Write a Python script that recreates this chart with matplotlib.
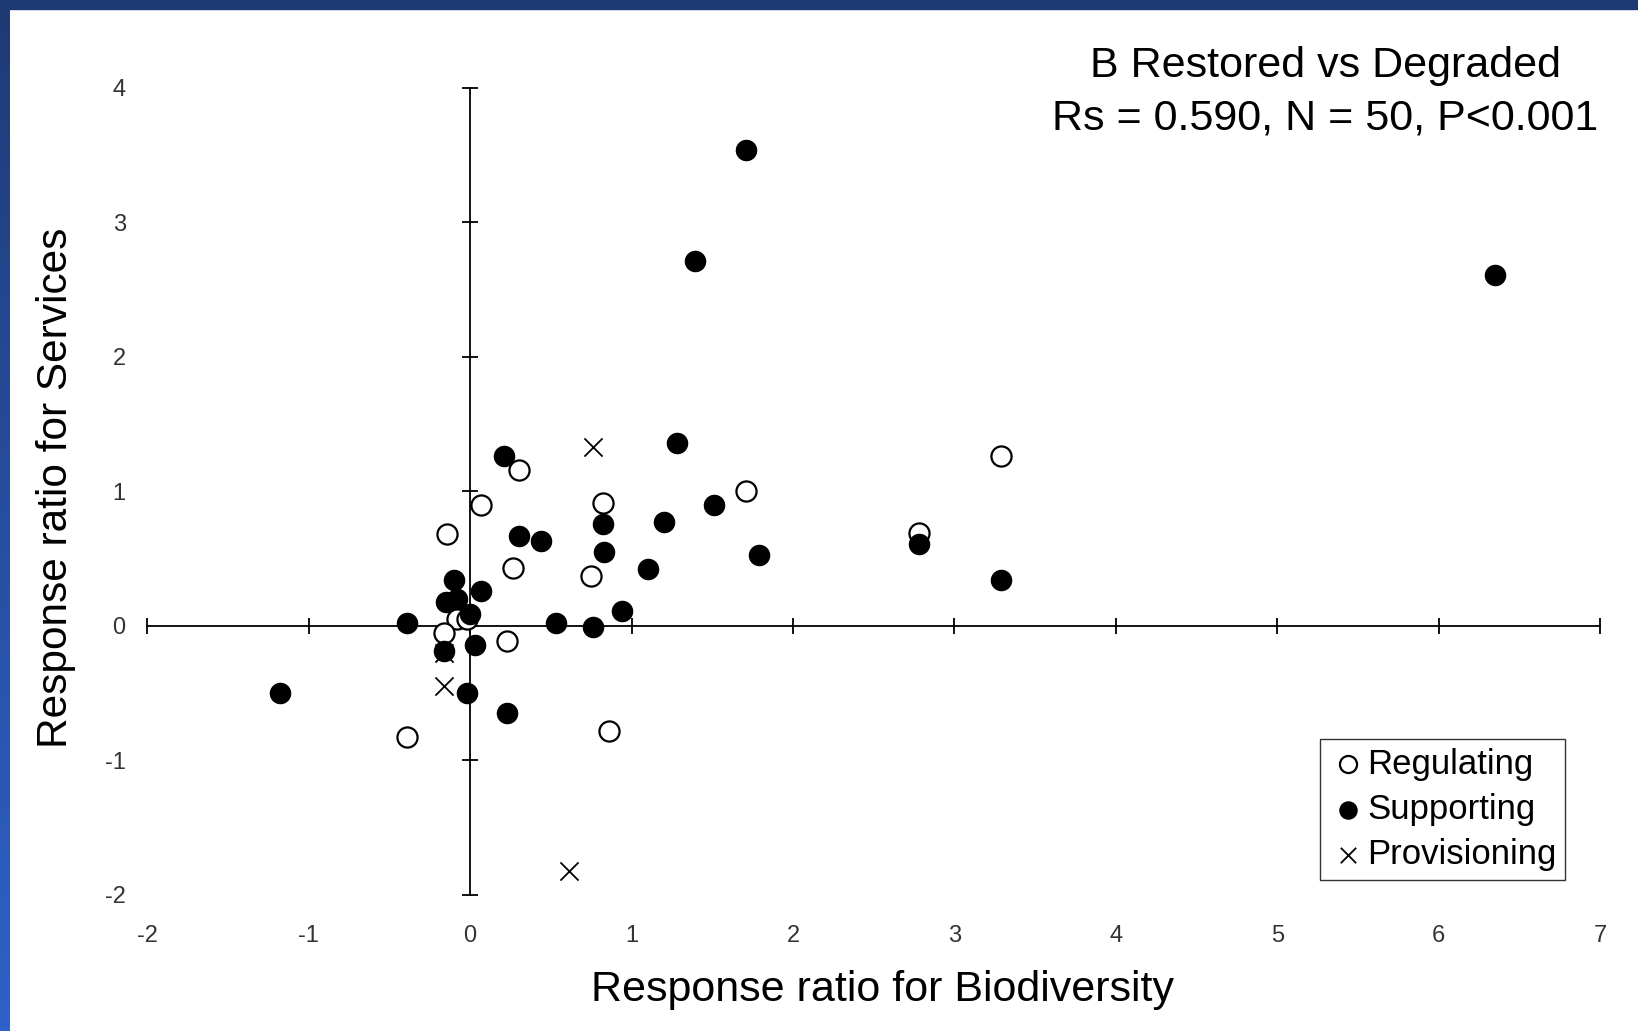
import numpy as np
import matplotlib
matplotlib.use('Agg')
import matplotlib.pyplot as plt
from matplotlib.patches import Rectangle

plt.rcParams['font.family'] = ['Liberation Sans', 'DejaVu Sans']

# dados (razao de resposta)
sup_x = [1.71, 1.39, 6.35, 1.28, 0.21, 1.51, 1.20, 0.82, 0.30, 0.44, 1.79, 0.83, 2.78, 1.10, 3.29,
         -0.10, 0.07, -0.08, -0.15, 0.94, 0.00, -0.39, 0.53, 0.76, 0.03, -0.16, -0.02, -1.18, 0.23]
sup_y = [3.54, 2.71, 2.61, 1.36, 1.26, 0.90, 0.77, 0.76, 0.67, 0.63, 0.53, 0.55, 0.61, 0.42, 0.34,
         0.34, 0.26, 0.20, 0.18, 0.11, 0.09, 0.02, 0.02, -0.01, -0.14, -0.19, -0.50, -0.50, -0.65]
reg_x = [0.30, 0.07, -0.145, 0.265, -0.08, -0.02, -0.16, 0.23, -0.39, 0.86, 0.82, 0.75, 1.71, 2.78, 3.29]
reg_y = [1.16, 0.90, 0.68, 0.43, 0.05, 0.05, -0.05, -0.11, -0.83, -0.78, 0.91, 0.37, 1.00, 0.69, 1.26]
prov_x = [0.61, 0.76, -0.16, -0.16]
prov_y = [-1.82, 1.33, -0.45, -0.20]

x_ticks = [-2, -1, 0, 1, 2, 3, 4, 5, 6, 7]
y_ticks = [-2, -1, 0, 1, 2, 3, 4]

fig = plt.figure(figsize=(16.38, 10.31), dpi=100)
ax = fig.add_axes([0.0899, 0.132, 0.887, 0.783])

ax.scatter(prov_x, prov_y, marker='x', s=170, c='black', linewidths=1.3, label='Provisioning', zorder=2)
ax.scatter(reg_x, reg_y, marker='o', s=210, facecolors='white', edgecolors='black', linewidths=1.6,
           label='Regulating', zorder=3)
ax.scatter(sup_x, sup_y, marker='o', s=210, c='black', label='Supporting', zorder=4)

ax.set_xlim(-2, 7)
ax.set_ylim(-2, 4)

# eixos passando pelo zero
for s in ['top', 'right']:
    ax.spines[s].set_visible(False)
ax.spines['left'].set_position(('data', 0))
ax.spines['bottom'].set_position(('data', 0))
ax.spines['left'].set_linewidth(1.3)
ax.spines['bottom'].set_linewidth(1.3)
ax.set_xticks(x_ticks)
ax.set_yticks(y_ticks)
ax.tick_params(direction='inout', length=12, width=1.3, labelbottom=False, labelleft=False)

# rotulos na borda, como no excel
secx = ax.secondary_xaxis(0)
secx.set_xticks(x_ticks)
secx.set_xticklabels([str(t) for t in x_ticks])
secx.tick_params(length=0, pad=22, labelsize=17, labelcolor='#333333')
secx.spines['bottom'].set_visible(False)
secy = ax.secondary_yaxis(-0.011)
secy.set_yticks(y_ticks)
secy.set_yticklabels([str(t) for t in y_ticks])
secy.tick_params(length=0, pad=4, labelsize=17, labelcolor='#333333')
secy.spines['left'].set_visible(False)

fig.text(0.5385, 0.040, 'Response ratio for Biodiversity', fontsize=31, ha='center', va='center')
fig.text(0.034, 0.527, 'Response ratio for Services', fontsize=30.5, ha='center', va='center', rotation=90)
fig.text(0.809, 0.936, 'B Restored vs Degraded', fontsize=31, ha='center', va='center')
fig.text(0.809, 0.885, 'Rs = 0.590, N = 50, P<0.001', fontsize=31, ha='center', va='center')

handles, labels = ax.get_legend_handles_labels()
order = [1, 2, 0]
leg = ax.legend([handles[i] for i in order], [labels[i] for i in order],
                loc='lower right', bbox_to_anchor=(0.976, 0.019), fontsize=25,
                frameon=True, fancybox=False, edgecolor='black', markerscale=0.85,
                handletextpad=0.0, handlelength=1.1, borderpad=0.25, labelspacing=0.35,
                borderaxespad=0)
leg.get_frame().set_linewidth(1.0)

# moldura azul
fig.add_artist(Rectangle((0, 1 - 9 / 1031), 1, 9 / 1031, transform=fig.transFigure,
                         color='#1e3a73', zorder=10))
grad = fig.add_axes([0, 0, 10 / 1638, 1 - 9 / 1031])
grad.imshow(np.linspace(0, 1, 256).reshape(-1, 1), aspect='auto', cmap=matplotlib.colors.LinearSegmentedColormap.from_list('b', ['#1f3b76', '#2e62c8']))
grad.axis('off')

fig.savefig('out.png', dpi=100)
